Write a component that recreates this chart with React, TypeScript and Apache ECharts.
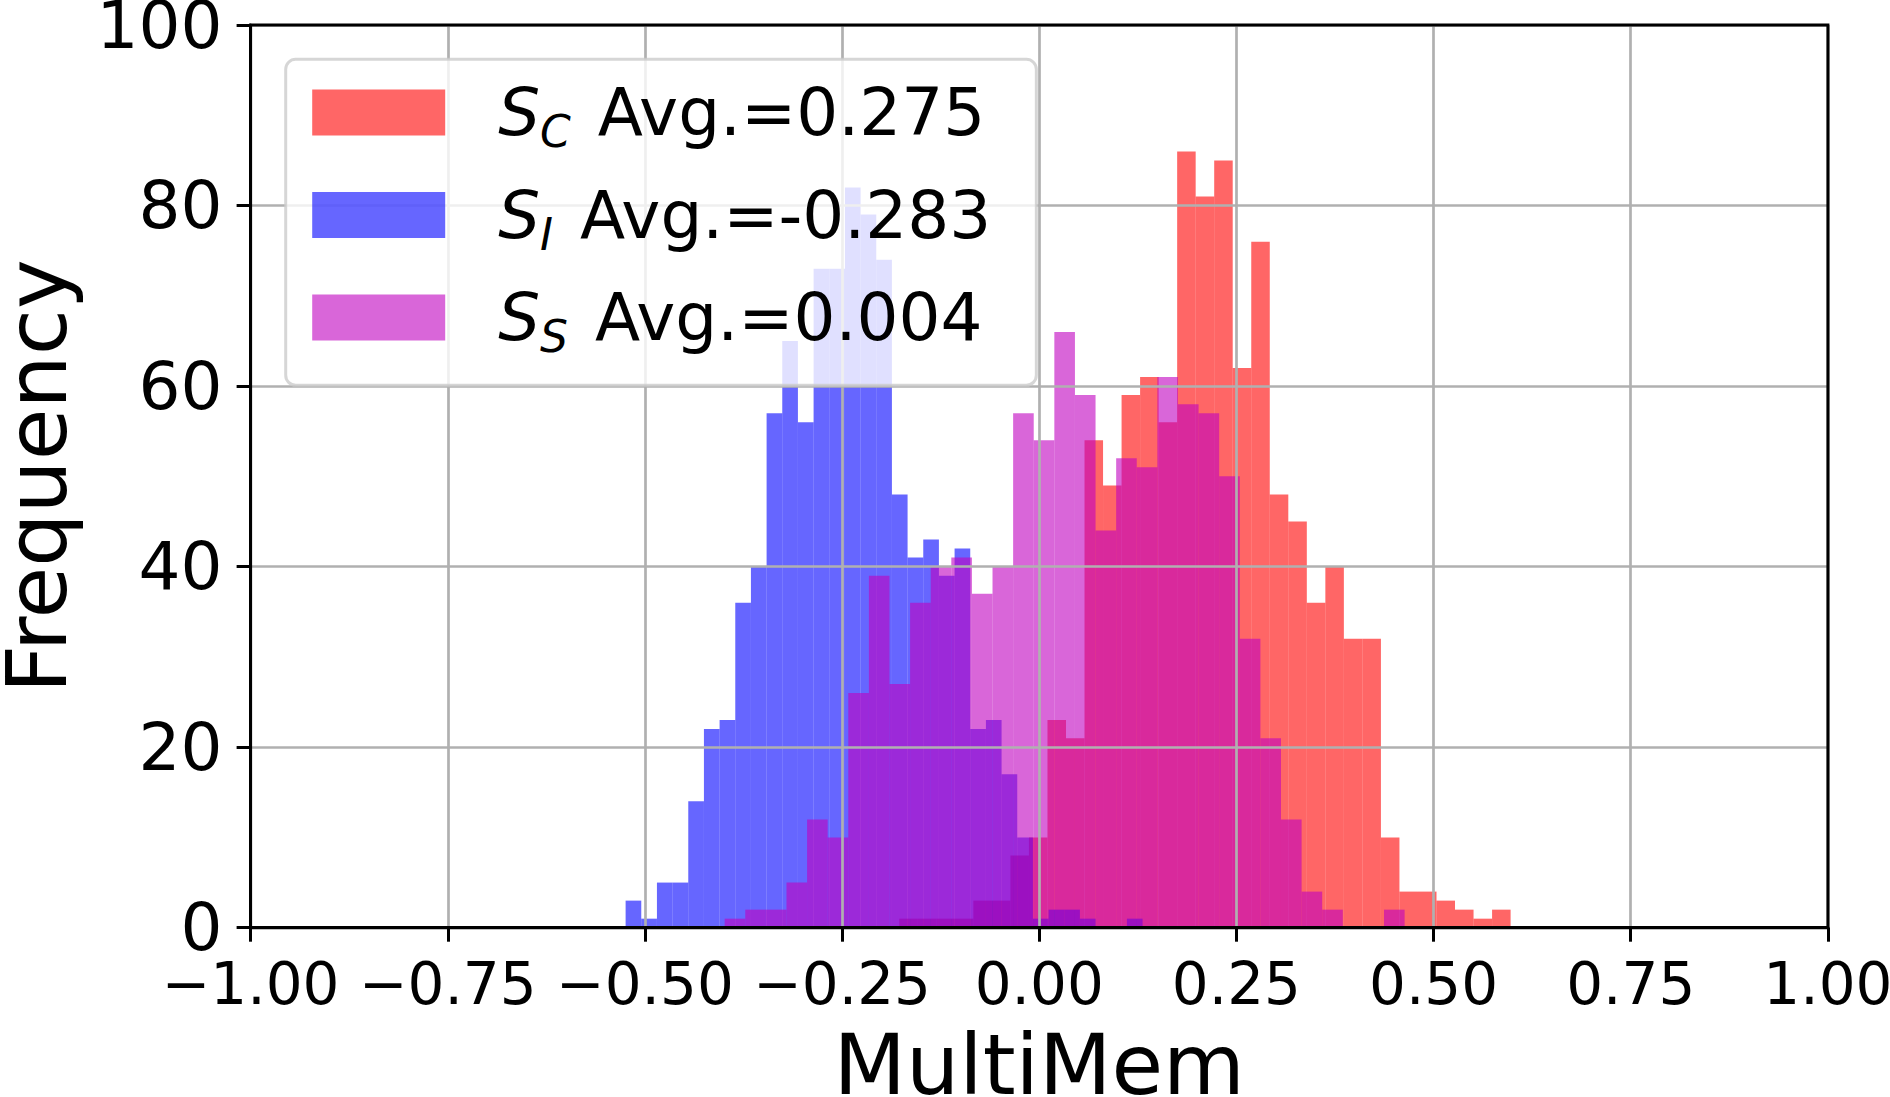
import React, { useEffect, useRef } from "react";
import * as echarts from "echarts";

// Histogram counts per bin (equal-width bins, one set of bins per series)
const scCounts = [1, 1, 1, 1, 3, 3, 8, 10, 23, 21, 54, 49, 59, 61, 56, 86, 81, 85, 62, 76, 48, 45, 36, 40, 32, 32, 10, 4, 4, 3, 2, 1, 2];
const scBinStart = -0.1775;
const scBinWidth = 0.02349;

const siCounts = [3, 1, 5, 5, 14, 22, 23, 36, 40, 57, 65, 56, 73, 73, 82, 79, 74, 48, 41, 43, 39, 42, 22, 23, 17, 10, 1, 2, 2, 1, 0, 0, 1];
const siBinStart = -0.5245;
const siBinWidth = 0.019864;

const ssCounts = [1, 2, 2, 5, 12, 10, 26, 39, 27, 36, 40, 41, 37, 40, 57, 54, 66, 59, 44, 52, 51, 61, 58, 57, 50, 32, 21, 12, 4, 2, 0, 0, 2];
const ssBinStart = -0.3989;
const ssBinWidth = 0.026127;

const xTicks = [-1, -0.75, -0.5, -0.25, 0, 0.25, 0.5, 0.75, 1];
const yTicks = [0, 20, 40, 60, 80, 100];

const seriesDefs = [
  { id: "SC", sub: "C", avg: "0.275", color: "rgba(255,0,0,0.6)", counts: scCounts, start: scBinStart, width: scBinWidth },
  { id: "SI", sub: "I", avg: "-0.283", color: "rgba(0,0,255,0.6)", counts: siCounts, start: siBinStart, width: siBinWidth },
  { id: "SS", sub: "S", avg: "0.004", color: "rgba(191,0,191,0.6)", counts: ssCounts, start: ssBinStart, width: ssBinWidth },
];

const FONT = "DejaVu Sans";

function toBins(counts: number[], start: number, width: number) {
  return counts.map((c, i) => [start + i * width, start + (i + 1) * width, c]);
}

function fmtTick(v: number) {
  const s = Math.abs(v).toFixed(2);
  return v < 0 ? "\u2212" + s : s;
}

export default function App() {
  const ref = useRef<HTMLDivElement>(null);

  useEffect(() => {
    if (!ref.current) return;
    const chart = echarts.init(ref.current, null, { renderer: "svg" });

    const series = seriesDefs.map((d) => ({
      type: "custom",
      name: d.id,
      itemStyle: { color: d.color },
      encode: { x: [0, 1], y: 2 },
      data: toBins(d.counts, d.start, d.width),
      renderItem: (params: any, api: any) => {
        const p0 = api.coord([api.value(0), api.value(2)]);
        const p1 = api.coord([api.value(1), 0]);
        return {
          type: "rect",
          shape: { x: p0[0], y: p0[1], width: p1[0] - p0[0], height: p1[1] - p0[1] },
          style: { fill: d.color },
        };
      },
    }));

    const legendText = (name: string) => {
      const d = seriesDefs.find((s) => s.id === name)!;
      return `{s|S}{sub|${d.sub}}{t| Avg.=${d.avg}}`;
    };

    chart.setOption({
      animation: false,
      grid: {
        show: true,
        z: 4,
        left: 250.6,
        right: 62.1,
        top: 25,
        bottom: 169.3,
        containLabel: false,
        outerBoundsMode: "none",
        borderColor: "#000",
        borderWidth: 3,
        backgroundColor: "transparent",
      },
      xAxis: {
        type: "value",
        min: -1,
        max: 1,
        interval: 0.25,
        z: 3,
        name: "MultiMem",
        nameLocation: "middle",
        nameGap: 95,
        nameTextStyle: { fontFamily: FONT, fontSize: 84, color: "#000" },
        axisLine: { show: true, onZero: false, lineStyle: { color: "#000", width: 3 } },
        axisTick: { show: true, inside: false, length: 14, lineStyle: { color: "#000", width: 3 } },
        axisLabel: {
          fontFamily: FONT,
          fontSize: 58,
          color: "#000",
          margin: 27,
          formatter: (v: number) => fmtTick(v),
        },
        splitLine: { show: true, lineStyle: { color: "#b0b0b0", width: 2.7 } },
      },
      yAxis: {
        type: "value",
        min: 0,
        max: 100,
        interval: 20,
        z: 3,
        name: "Frequency",
        nameLocation: "middle",
        nameRotate: 90,
        nameGap: 172,
        nameTextStyle: { fontFamily: FONT, fontSize: 84, color: "#000" },
        axisLine: { show: true, onZero: false, lineStyle: { color: "#000", width: 3 } },
        axisTick: { show: true, inside: false, length: 14, lineStyle: { color: "#000", width: 3 } },
        axisLabel: {
          fontFamily: FONT,
          fontSize: 66,
          color: "#000",
          margin: 28,
          formatter: (v: number) => (yTicks.includes(v) ? String(v) : ""),
        },
        splitLine: { show: true, lineStyle: { color: "#b0b0b0", width: 2.7 } },
      },
      legend: {
        orient: "vertical",
        left: 285.7,
        top: 59.3,
        padding: [14.2, 45, 26.8, 26.5],
        itemWidth: 133,
        itemHeight: 46,
        itemGap: 22.5,
        icon: "rect",
        selectedMode: false,
        backgroundColor: "rgba(255,255,255,0.8)",
        borderColor: "rgba(204,204,204,0.8)",
        borderWidth: 3,
        borderRadius: 10,
        data: seriesDefs.map((d) => d.id),
        formatter: legendText,
        textStyle: {
          fontFamily: FONT,
          fontSize: 66,
          color: "#000",
          rich: {
            s: {
              fontFamily: FONT,
              fontSize: 66,
              fontStyle: "italic",
              color: "#000",
              lineHeight: 78,
              verticalAlign: "middle",
              padding: [0, 0, 0, 48],
            },
            sub: {
              fontFamily: FONT,
              fontSize: 44,
              fontStyle: "italic",
              color: "#000",
              lineHeight: 78,
              verticalAlign: "top",
              padding: [36, 6, 0, 0],
            },
            t: {
              fontFamily: FONT,
              fontSize: 66,
              color: "#000",
              lineHeight: 78,
              verticalAlign: "middle",
            },
          },
        },
      },
      series,
    });

    return () => chart.dispose();
  }, []);

  return (
    <div
      ref={ref}
      style={{ position: "absolute", left: 0, top: 0, width: 1890, height: 1097, background: "#fff" }}
    />
  );
}
